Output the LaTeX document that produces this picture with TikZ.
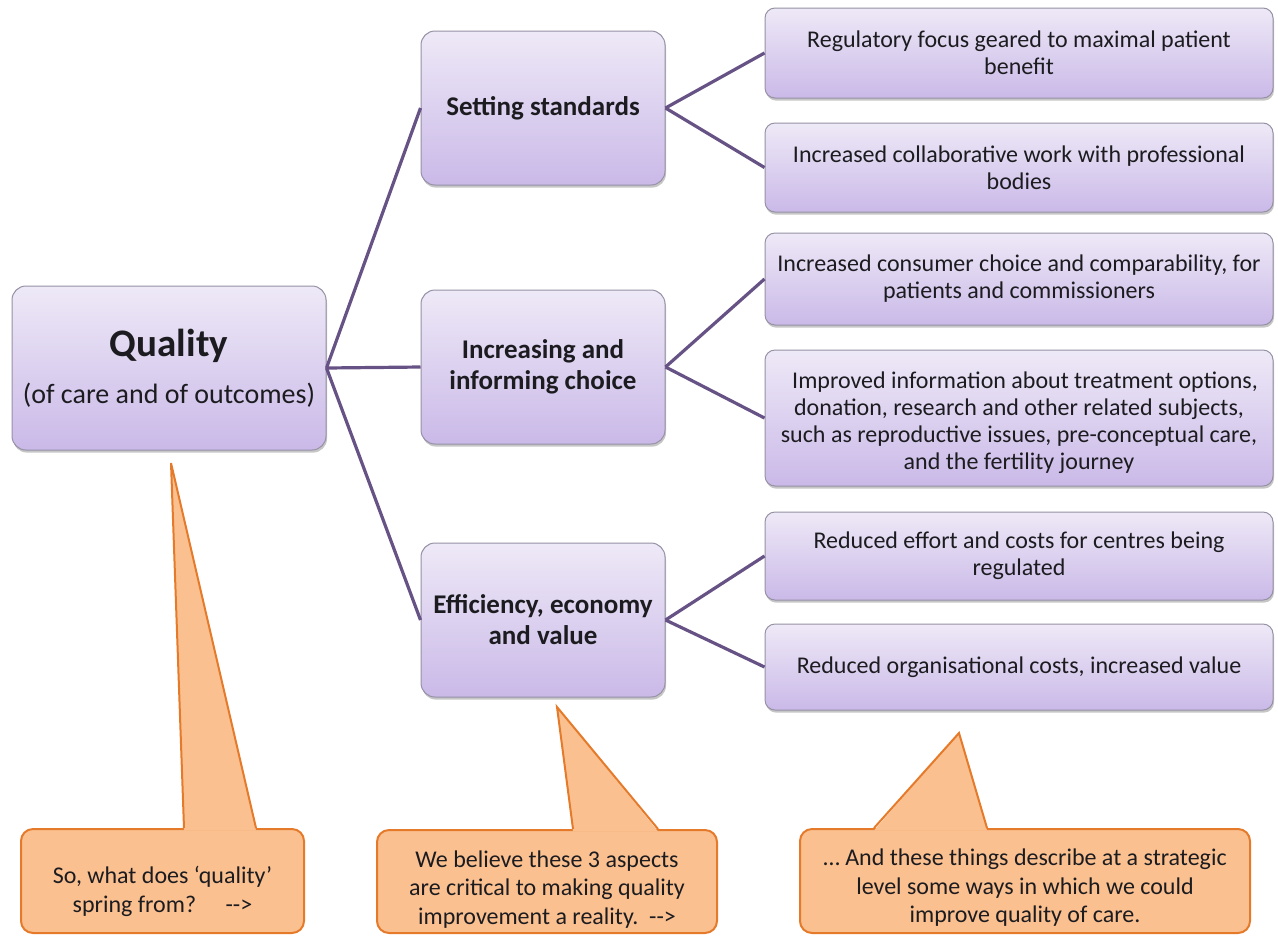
\documentclass[tikz,border=0pt]{standalone}
\usepackage{fontspec}
\setmainfont{Carlito}[Ligatures=TeXOff]
\usepackage{tikz}
\usetikzlibrary{positioning,shadows}
\definecolor{boxtop}{RGB}{238,233,247}
\definecolor{boxbottom}{RGB}{202,185,232}
\definecolor{boxedge}{RGB}{150,145,165}
\definecolor{linkpurple}{RGB}{102,82,132}
\definecolor{calloutfill}{RGB}{250,192,144}
\definecolor{calloutedge}{RGB}{228,122,42}
\definecolor{inkdark}{RGB}{28,28,32}
\newcommand{\padtop}[1]{\rule{0pt}{#1}}

\begin{document}
\begin{tikzpicture}[x=.5pt,y=-.5pt,
    every node/.style={text=inkdark,align=center,inner sep=2pt},
    card/.style={draw=boxedge,line width=.5pt,rounded corners=7pt,
      top color=boxtop,bottom color=boxbottom,
      drop shadow={shadow xshift=.5pt,shadow yshift=-1.3pt,opacity=.45}},
    mid/.style={card,minimum width=122pt,minimum height=77pt,
      font=\bfseries\fontsize{13.5}{15.5}\selectfont},
    leaf/.style={card,rounded corners=5pt,minimum width=254pt,
      font=\fontsize{12}{13.5}\selectfont},
    link/.style={draw=linkpurple,line width=1.6pt},
    callout/.style={draw=calloutedge,line width=1pt,fill=calloutfill,
      rounded corners=6pt,font=\fontsize{12}{14.25}\selectfont},
    pointer/.style={draw=calloutedge,line width=1pt,line join=miter}]
  \useasboundingbox (0,0) rectangle (1278,938);

  % root
  \node[card,minimum width=157pt,minimum height=82pt] (quality) at (169,368)
    {{\bfseries\fontsize{19.5}{22}\selectfont Quality}\\[9pt]
     {\fontsize{14}{17}\selectfont (of care and of outcomes)}};

  % three aspects
  \node[mid] (setting) at (543,108) {Setting standards};
  \node[mid] (choice) at (543,367) {Increasing and\\informing choice};
  \node[mid] (value) at (543,620) {Efficiency, economy\\and value};

  % strategic outcomes
  \node[leaf,minimum height=45pt] (focus) at (1019,53)
    {Regulatory focus geared to maximal patient\\benefit};
  \node[leaf,minimum height=44.5pt] (bodies) at (1019,167.5)
    {Increased collaborative work with professional\\bodies};
  \node[leaf,minimum height=46pt] (consumer) at (1019,279)
    {Increased consumer choice and comparability, for\\patients and commissioners};
  \node[leaf,minimum height=68pt] (info) at (1019,418)
    {\padtop{13pt}\hspace{6pt}Improved information about treatment options,\\
     donation, research and other related subjects,\\
     such as reproductive issues, pre-conceptual care,\\
     and the fertility journey};
  \node[leaf,minimum height=44pt] (effort) at (1019,556)
    {Reduced effort and costs for centres being\\regulated};
  \node[leaf,minimum height=43pt] (costs) at (1019,667)
    {Reduced organisational costs, increased value};

  \draw[link] (quality.east) -- (setting.west);
  \draw[link] (quality.east) -- (choice.west);
  \draw[link] (quality.east) -- (value.west);
  \draw[link] (setting.east) -- (focus.west);
  \draw[link] (setting.east) -- (bodies.west);
  \draw[link] (choice.east) -- (consumer.west);
  \draw[link] (choice.east) -- (info.west);
  \draw[link] (value.east) -- (effort.west);
  \draw[link] (value.east) -- (costs.west);

  % callouts
  \node[callout,minimum width=141.5pt,minimum height=52pt] (askwhy) at (162.5,881)
    {\padtop{19pt}So, what does ‘quality’\\spring from?\quad\ -->};
  \node[callout,minimum width=170pt,minimum height=51.5pt] (aspects) at (547,881.5)
    {\padtop{16pt}We believe these 3 aspects\\are critical to making quality\\improvement a reality.\ \ -->};
  \node[callout,minimum width=225pt,minimum height=52pt] (improve) at (1025,881)
    {\padtop{15pt}… And these things describe at a strategic\\level some ways in which we could\\improve quality of care.};

  \coordinate (askwhytip) at (171,463);
  \coordinate (aspectstip) at (557,707);
  \coordinate (improvetip) at (959,733);

  \fill[calloutfill] ([xshift=82pt,yshift=-1.2pt]askwhy.north west) -- (askwhytip)
    -- ([xshift=118pt,yshift=-1.2pt]askwhy.north west) -- cycle;
  \draw[pointer] ([xshift=82pt]askwhy.north west) -- (askwhytip)
    -- ([xshift=118pt]askwhy.north west);
  \fill[calloutfill] ([xshift=98.5pt,yshift=-1.2pt]aspects.north west) -- (aspectstip)
    -- ([xshift=141pt,yshift=-1.2pt]aspects.north west) -- cycle;
  \draw[pointer] ([xshift=98.5pt]aspects.north west) -- (aspectstip)
    -- ([xshift=141pt]aspects.north west);
  \fill[calloutfill] ([xshift=37.5pt,yshift=-1.2pt]improve.north west) -- (improvetip)
    -- ([xshift=94pt,yshift=-1.2pt]improve.north west) -- cycle;
  \draw[pointer] ([xshift=37.5pt]improve.north west) -- (improvetip)
    -- ([xshift=94pt]improve.north west);
\end{tikzpicture}
\end{document}
